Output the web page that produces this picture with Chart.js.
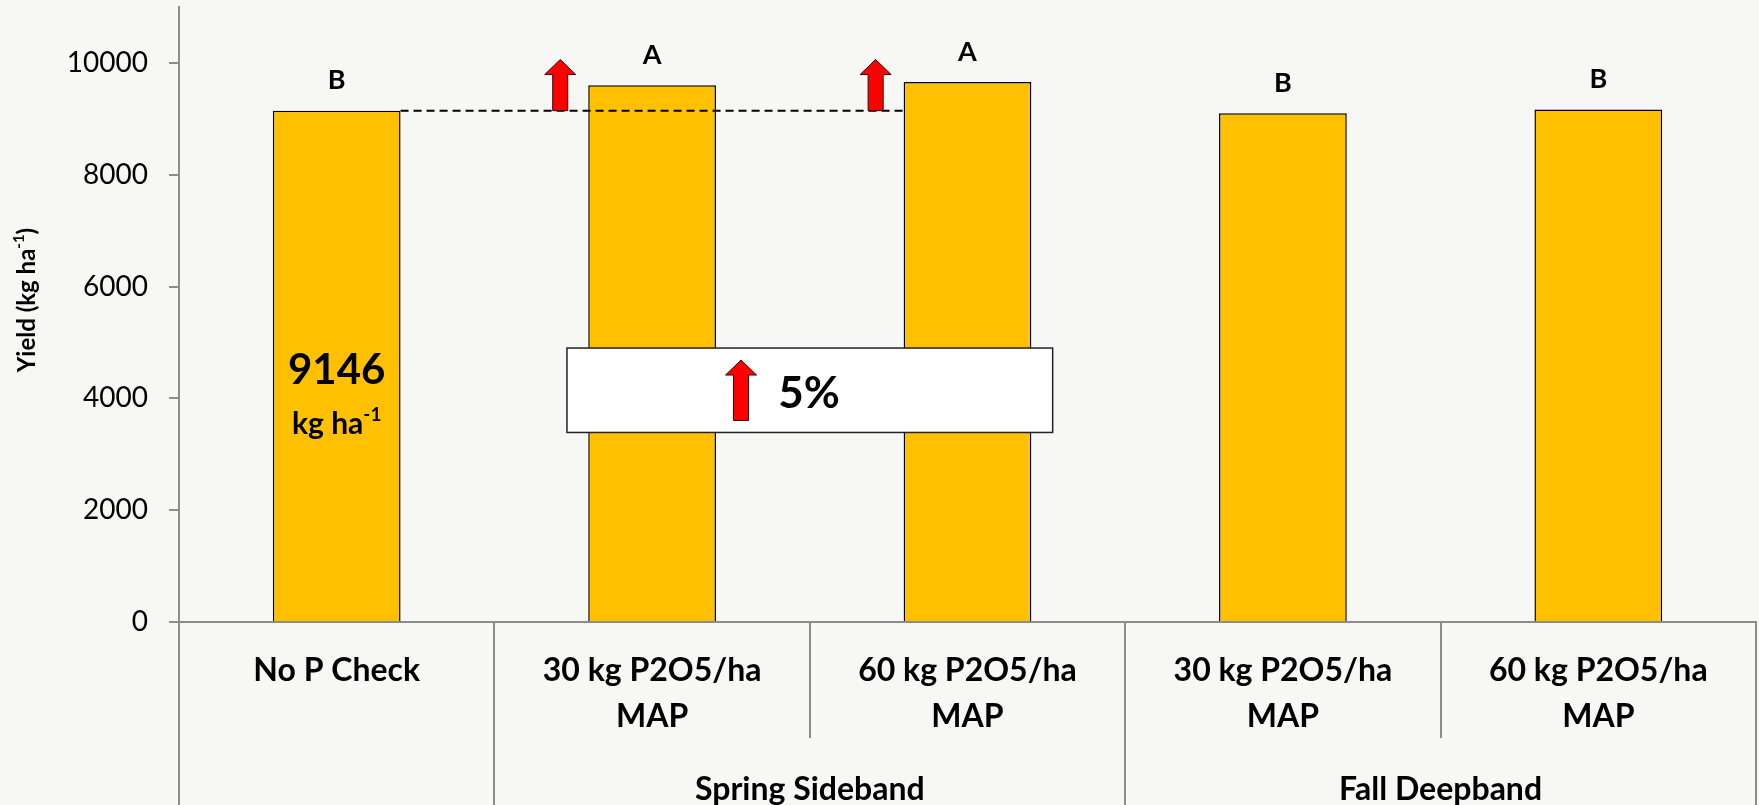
<!DOCTYPE html>
<html>
<head>
<meta charset="utf-8">
<script src="https://cdn.jsdelivr.net/npm/chart.js@4.4.1/dist/chart.umd.min.js"></script>
<style>
  html, body { margin: 0; padding: 0; background: #f7f7f5; }
  #wrap { width: 1759px; height: 805px; position: relative; }
</style>
</head>
<body>
<div id="wrap"><canvas id="yieldChart" width="1759" height="805"></canvas></div>
<script>
// Treatments (bottom level of the category axis)
const categories = [
  ['No P Check'],
  ['30 kg P2O5/ha', 'MAP'],
  ['60 kg P2O5/ha', 'MAP'],
  ['30 kg P2O5/ha', 'MAP'],
  ['60 kg P2O5/ha', 'MAP']
];
// Grain yield, kg/ha
const yieldValues = [9146, 9600, 9660, 9100, 9165];
// Mean separation letters
const meanLetters = ['B', 'A', 'A', 'B', 'B'];
// Placement groups (second level of the category axis) and the treatments they cover
const placementGroups = ['Spring Sideband', 'Fall Deepband'];
const groupFirst = [1, 3];
const groupLast = [2, 4];
// Y axis ticks
const yTicks = [0, 2000, 4000, 6000, 8000, 10000];
const yMax = 11000;
// Yield gain of the spring sideband treatments over the check
const gainText = '5%';
const gainBars = [1, 2];

const FONT = 'Lato, "Open Sans", "DejaVu Sans", sans-serif';
const AXIS_GREY = '#8c8c8c';

// Callout layout, in scale units (category index / kg per ha)
const callout = { x0: 0.73, x1: 2.27, yTop: 4900, yBottom: 3390, arrowX: 1.282, textX: 1.40 };

function drawArrow(ctx, cx, tipY, baseY) {
  const shaft = 15, head = 31, headH = 15;
  ctx.save();
  ctx.beginPath();
  ctx.moveTo(cx, tipY);
  ctx.lineTo(cx + head / 2, tipY + headH);
  ctx.lineTo(cx + shaft / 2, tipY + headH);
  ctx.lineTo(cx + shaft / 2, baseY);
  ctx.lineTo(cx - shaft / 2, baseY);
  ctx.lineTo(cx - shaft / 2, tipY + headH);
  ctx.lineTo(cx - head / 2, tipY + headH);
  ctx.closePath();
  ctx.fillStyle = '#ff0000';
  ctx.fill();
  ctx.lineWidth = 1;
  ctx.strokeStyle = '#3a0000';
  ctx.stroke();
  ctx.restore();
}

// Text made of runs; runs flagged sup are drawn smaller and raised
function drawRuns(ctx, runs, x, y, size, align) {
  const supSize = Math.round(size * 0.62);
  let total = 0;
  const widths = runs.map(r => {
    ctx.font = 'bold ' + (r.sup ? supSize : size) + 'px ' + FONT;
    const w = ctx.measureText(r.t).width;
    total += w;
    return w;
  });
  let cx = align === 'center' ? x - total / 2 : x;
  ctx.textAlign = 'left';
  ctx.textBaseline = 'middle';
  runs.forEach((r, i) => {
    ctx.font = 'bold ' + (r.sup ? supSize : size) + 'px ' + FONT;
    ctx.fillText(r.t, cx, r.sup ? y - size * 0.32 : y);
    cx += widths[i];
  });
}

const overlayPlugin = {
  id: 'overlay',
  afterDraw(chart) {
    const { ctx, chartArea } = chart;
    const xs = chart.scales.x, ys = chart.scales.y;
    const bars = chart.getDatasetMeta(0).data;
    const H = chart.height;

    // Category separators below the axis
    ctx.save();
    ctx.strokeStyle = AXIS_GREY;
    ctx.lineWidth = 2;
    const fullLines = [0, 1, 3, 5];
    for (let k = 0; k <= categories.length; k++) {
      const px = Math.round(xs.getPixelForValue(k - 0.5));
      const bottom = fullLines.includes(k) ? H : chartArea.bottom + 116;
      ctx.beginPath();
      ctx.moveTo(px, chartArea.bottom);
      ctx.lineTo(px, bottom);
      ctx.stroke();
    }
    ctx.restore();

    // Placement group labels
    ctx.save();
    ctx.fillStyle = '#000';
    ctx.font = 'bold 32px ' + FONT;
    ctx.textAlign = 'center';
    ctx.textBaseline = 'middle';
    placementGroups.forEach((g, i) => {
      const px = xs.getPixelForValue((groupFirst[i] + groupLast[i]) / 2);
      ctx.fillText(g, px, 790);
    });
    ctx.restore();

    // Dashed reference line at the check yield
    const yCheck = ys.getPixelForValue(yieldValues[0]);
    const lineStart = bars[0].x + bars[0].width / 2;
    const lineEnd = bars[gainBars[1]].x - bars[gainBars[1]].width / 2;
    ctx.save();
    ctx.setLineDash([8, 5]);
    ctx.lineWidth = 2;
    ctx.strokeStyle = '#000';
    ctx.beginPath();
    ctx.moveTo(lineStart, yCheck);
    ctx.lineTo(lineEnd, yCheck);
    ctx.stroke();
    ctx.restore();

    // Arrows beside the spring sideband bars
    gainBars.forEach(i => {
      const b = bars[i];
      const cx = b.x - b.width / 2 - 28;
      drawArrow(ctx, cx, ys.getPixelForValue(10060), yCheck);
    });

    // Mean separation letters
    ctx.save();
    ctx.fillStyle = '#000';
    ctx.font = 'bold 27px ' + FONT;
    ctx.textAlign = 'center';
    ctx.textBaseline = 'middle';
    bars.forEach((b, i) => ctx.fillText(meanLetters[i], b.x, b.y - 30));
    ctx.restore();

    // Check yield printed inside the first bar
    ctx.save();
    ctx.fillStyle = '#000';
    ctx.font = 'bold 42px ' + FONT;
    ctx.textAlign = 'center';
    ctx.textBaseline = 'middle';
    ctx.fillText(String(yieldValues[0]), bars[0].x, 370);
    drawRuns(ctx, [{ t: 'kg ha' }, { t: '-1', sup: true }], bars[0].x, 424, 30, 'center');
    ctx.restore();

    // Yield gain callout
    const bx0 = xs.getPixelForValue(callout.x0), bx1 = xs.getPixelForValue(callout.x1);
    const by0 = ys.getPixelForValue(callout.yTop), by1 = ys.getPixelForValue(callout.yBottom);
    ctx.save();
    ctx.fillStyle = '#ffffff';
    ctx.fillRect(bx0, by0, bx1 - bx0, by1 - by0);
    ctx.lineWidth = 1.5;
    ctx.strokeStyle = '#222';
    ctx.strokeRect(bx0, by0, bx1 - bx0, by1 - by0);
    ctx.restore();
    drawArrow(ctx, xs.getPixelForValue(callout.arrowX), by0 + 12, by1 - 12);
    ctx.save();
    ctx.fillStyle = '#000';
    ctx.font = 'bold 44px ' + FONT;
    ctx.textAlign = 'left';
    ctx.textBaseline = 'middle';
    ctx.fillText(gainText, xs.getPixelForValue(callout.textX), (by0 + by1) / 2 + 4);
    ctx.restore();

    // Y axis title
    ctx.save();
    ctx.translate(27, 300);
    ctx.rotate(-Math.PI / 2);
    ctx.fillStyle = '#000';
    drawRuns(ctx, [{ t: 'Yield (kg ha' }, { t: '-1', sup: true }, { t: ')' }], 0, 0, 24, 'center');
    ctx.restore();
  }
};

new Chart(document.getElementById('yieldChart'), {
  type: 'bar',
  data: {
    labels: categories,
    datasets: [{
      data: yieldValues,
      backgroundColor: '#ffc000',
      borderColor: '#000000',
      borderWidth: 1.5,
      borderSkipped: 'bottom',
      categoryPercentage: 1,
      barPercentage: 0.405
    }]
  },
  options: {
    responsive: false,
    animation: false,
    events: [],
    layout: { padding: { top: 7, right: 3, left: 0, bottom: 0 } },
    plugins: { legend: { display: false }, tooltip: { enabled: false } },
    scales: {
      x: {
        grid: { display: false, drawTicks: false },
        border: { display: true, color: AXIS_GREY, width: 2 },
        ticks: {
          color: '#000',
          padding: 25,
          maxRotation: 0,
          autoSkip: false,
          font: { family: FONT, size: 32, weight: 'bold', lineHeight: 1.45 }
        },
        afterFit: s => { s.height = 183; s.paddingLeft = 0; s.paddingRight = 0; }
      },
      y: {
        min: 0,
        max: yMax,
        afterBuildTicks: s => { s.ticks = yTicks.map(v => ({ value: v })); },
        grid: { display: true, drawOnChartArea: false, drawTicks: true, tickLength: 10, color: AXIS_GREY, lineWidth: 2 },
        border: { display: true, color: AXIS_GREY, width: 2 },
        ticks: {
          color: '#000',
          padding: 21,
          font: { family: FONT, size: 28 },
          callback: v => String(v)
        },
        afterFit: s => { s.width = 179; s.paddingTop = 0; s.paddingBottom = 0; }
      }
    }
  },
  plugins: [overlayPlugin]
});
</script>
</body>
</html>
